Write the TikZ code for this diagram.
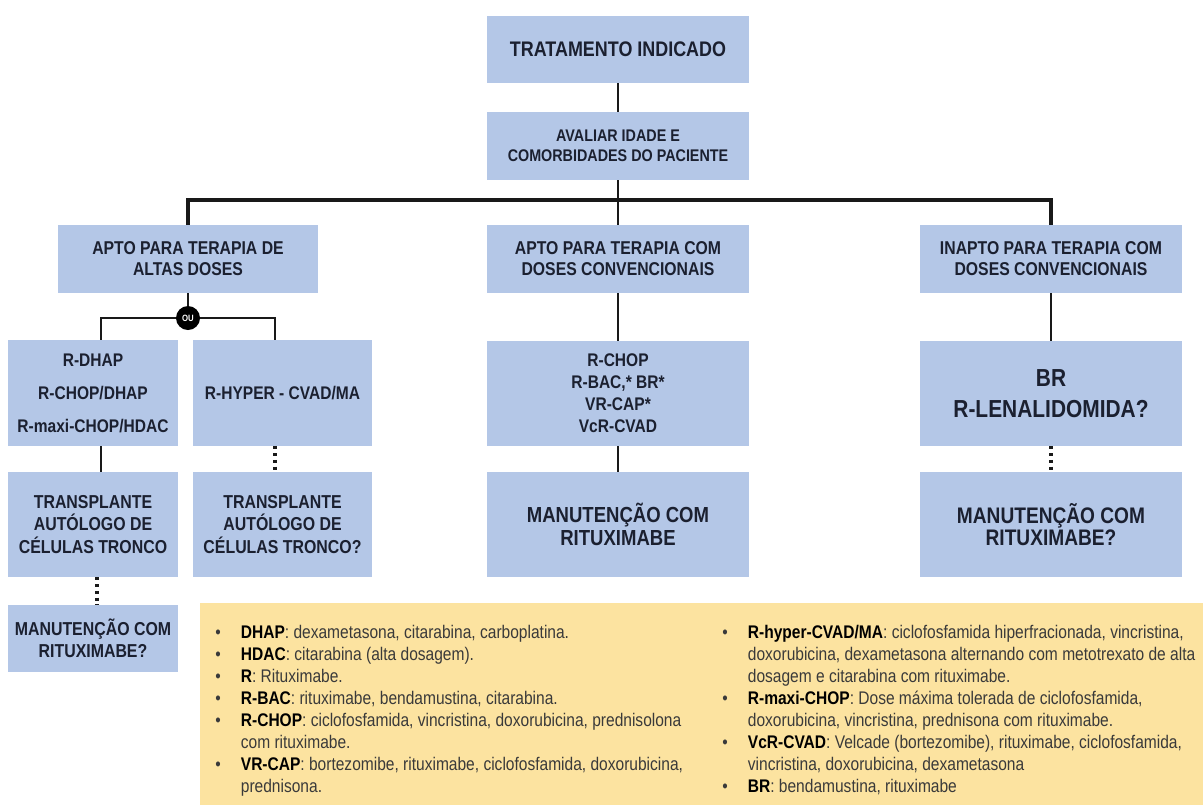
\documentclass[tikz,border=0pt]{standalone}
\usepackage{fontspec}
\setmainfont{Liberation Sans}[FakeStretch=0.85]

\definecolor{boxblue}{HTML}{B4C7E7}
\definecolor{legyellow}{HTML}{FCE3A0}
\definecolor{navy}{HTML}{1B2030}
\definecolor{legtxt}{HTML}{3A3A3A}

\newcommand{\bxf}[2]{\fontsize{#1}{#2}\selectfont\bfseries}
\newcommand{\itm}{\makebox[0.64cm][l]{\textbullet}}
\newcommand{\kw}[1]{\textcolor{black}{\textbf{#1}}}

\begin{document}
\begin{tikzpicture}[x=0.025cm,y=-0.025cm]
\tikzset{box/.style={fill=boxblue,text=navy,align=center,inner sep=0pt},
    wh/.style 2 args={minimum width=#1*0.025cm,minimum height=#2*0.025cm},
    lnk/.style={line width=2.1pt,black!90},
    buslnk/.style={line width=2.7pt,black!90},
    dotlnk/.style={line width=2.2pt,black!90,dash pattern=on 2.2pt off 2.6pt}}

\useasboundingbox (0,0) rectangle (1203,805);

\node[box,wh={262}{67},font=\bxf{15}{18}] (trat) at (618,49.5) {TRATAMENTO INDICADO};
\node[box,wh={262}{68},font=\bxf{12}{14.4}] (aval) at (618,146) {AVALIAR IDADE E\\COMORBIDADES DO PACIENTE};

\node[box,wh={260}{68},font=\bxf{13.2}{15}] (apt1) at (188,259) {APTO PARA TERAPIA DE\\ALTAS DOSES};
\node[box,wh={262}{68},font=\bxf{13.2}{15}] (apt2) at (618,259) {APTO PARA TERAPIA COM\\DOSES CONVENCIONAIS};
\node[box,wh={262}{68},font=\bxf{13.2}{15}] (apt3) at (1051,259) {INAPTO PARA TERAPIA COM\\DOSES CONVENCIONAIS};

\node[box,wh={170}{106},font=\bxf{13}{23.4}] (dhap) at (93,393) {R-DHAP\\R-CHOP/DHAP\\R-maxi-CHOP/HDAC};
\node[box,wh={179}{106},font=\bxf{13}{15}] (hyper) at (282.5,393) {R-HYPER - CVAD/MA};
\node[box,wh={170}{105},font=\bxf{13.3}{16}] (trans1) at (93,524.5) {TRANSPLANTE\\AUTÓLOGO DE\\CÉLULAS TRONCO};
\node[box,wh={179}{105},font=\bxf{13.3}{16}] (trans2) at (282.5,524.5) {TRANSPLANTE\\AUTÓLOGO DE\\CÉLULAS TRONCO?};
\node[box,wh={170}{67},font=\bxf{13.3}{15.6}] (manL) at (93,638.5) {MANUTENÇÃO COM\\RITUXIMABE?};

\node[box,wh={262}{105},font=\bxf{13}{15.6}] (rchop) at (618,393.5) {R-CHOP\\R-BAC,* BR*\\VR-CAP*\\VcR-CVAD};
\node[box,wh={262}{105},font=\bxf{15.5}{16.5}] (manM) at (618,524.5) {MANUTENÇÃO COM\\RITUXIMABE};

\node[box,wh={262}{105},font=\bxf{17.5}{22.5}] (br) at (1051,393.5) {BR\\R-LENALIDOMIDA?};
\node[box,wh={262}{105},font=\bxf{16}{15.6}] (manR) at (1051,524.5) {MANUTENÇÃO COM\\RITUXIMABE?};

\node[circle,fill=black,text=white,inner sep=0pt,minimum size=0.6cm,font=\bxf{6.5}{7}] (ou) at (188,318) {OU};

\coordinate (bus) at (618,200);
\coordinate (ouL) at (101,318);
\coordinate (ouR) at (275,318);

\draw[lnk] (trat) -- (aval);
\draw[lnk] (aval) -- (apt2);
\draw[buslnk] (apt1.north) |- (bus) -| (apt3.north);
\draw[lnk] (apt1) -- (ou);
\draw[lnk] (ouL |- dhap.north) -- (ouL) -- (ou.west);
\draw[lnk] (ou.east) -- (ouR) -- (ouR |- hyper.north);
\draw[lnk] (ouL |- dhap.south) -- (ouL |- trans1.north);
\draw[dotlnk] (ouR |- hyper.south) -- (ouR |- trans2.north);
\draw[dotlnk] ([xshift=0.1cm]trans1.south) -- ([xshift=0.1cm]manL.north);
\draw[lnk] (apt2) -- (rchop);
\draw[lnk] (rchop) -- (manM);
\draw[lnk] (apt3) -- (br);
\draw[dotlnk] (br) -- (manR);

\node[fill=legyellow,anchor=north west,inner sep=0pt,wh={1003}{202}] (leg) at (200,603) {};

\node[anchor=north west,inner sep=0pt,text=legtxt,font=\fontsize{13}{15.6}\selectfont] (legL) at (215,623) {%
\begin{tabular}{@{}l@{}l@{}}
\itm & \kw{DHAP}: dexametasona, citarabina, carboplatina.\\
\itm & \kw{HDAC}: citarabina (alta dosagem).\\
\itm & \kw{R}: Rituximabe.\\
\itm & \kw{R-BAC}: rituximabe, bendamustina, citarabina.\\
\itm & \kw{R-CHOP}: ciclofosfamida, vincristina, doxorubicina, prednisolona\\
     & com rituximabe.\\
\itm & \kw{VR-CAP}: bortezomibe, rituximabe, ciclofosfamida, doxorubicina,\\
     & prednisona.
\end{tabular}};

\node[anchor=north west,inner sep=0pt,text=legtxt,font=\fontsize{13}{15.6}\selectfont] (legR) at (722,623) {%
\begin{tabular}{@{}l@{}l@{}}
\itm & \kw{R-hyper-CVAD/MA}: ciclofosfamida hiperfracionada, vincristina,\\
     & doxorubicina, dexametasona alternando com metotrexato de alta\\
     & dosagem e citarabina com rituximabe.\\
\itm & \kw{R-maxi-CHOP}: Dose máxima tolerada de ciclofosfamida,\\
     & doxorubicina, vincristina, prednisona com rituximabe.\\
\itm & \kw{VcR-CVAD}: Velcade (bortezomibe), rituximabe, ciclofosfamida,\\
     & vincristina, doxorubicina, dexametasona\\
\itm & \kw{BR}: bendamustina, rituximabe
\end{tabular}};

\end{tikzpicture}
\end{document}
